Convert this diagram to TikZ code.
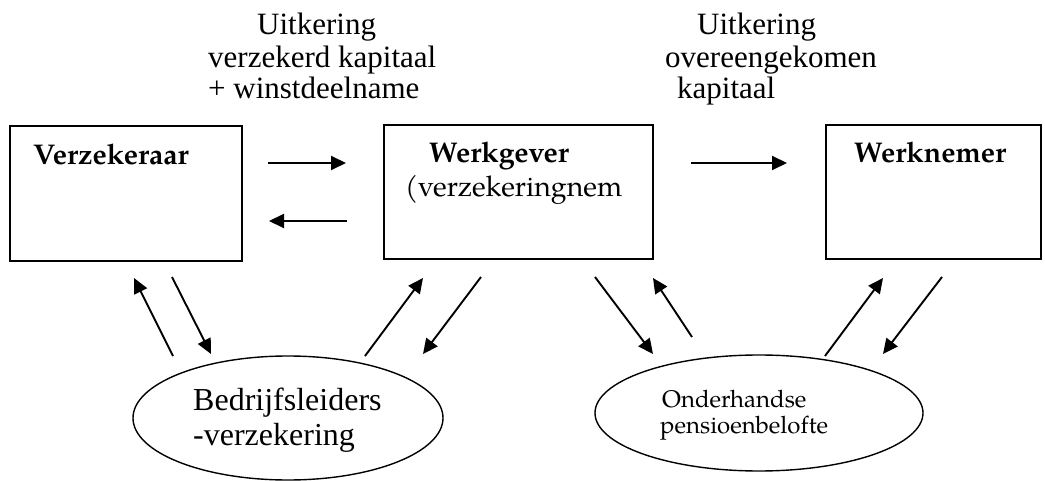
\documentclass[tikz,border=0pt]{standalone}
\usepackage{fontspec}
\setmainfont{Liberation Serif}
\newfontfamily\pal{TeX Gyre Pagella}
\usetikzlibrary{arrows.meta,shapes.geometric}
\begin{document}
\begin{tikzpicture}[x=1pt,y=-1pt,
  box/.style={draw,line width=2pt,inner sep=0pt,rectangle},
  oval/.style={draw,ellipse,line width=1.4pt,inner sep=0pt},
  flow/.style={line width=1.9pt,-{Triangle[length=15pt,width=14pt]}},
  lbl/.style={anchor=base west,inner sep=0pt,font=\fontsize{31}{32}\selectfont},
  boxtxt/.style={anchor=base west,inner sep=0pt,font=\pal\fontsize{28.5}{30}\selectfont},
  boldtxt/.style={boxtxt,font=\pal\bfseries\fontsize{28.5}{30}\selectfont},
  ovaltxt/.style={anchor=base west,inner sep=0pt,font=\pal\fontsize{24}{26}\selectfont},
]
\useasboundingbox (0,0) rectangle (1045,481);

% parties
\node[box,minimum width=232pt,minimum height=135pt] (verz) at (126,193.5) {};
\node[box,minimum width=269pt,minimum height=134pt] (wg) at (518.5,192) {};
\node[box,minimum width=215pt,minimum height=134pt] (wn) at (933.5,192) {};

\node[boldtxt] (tverz) at (33,165) {Verzekeraar};
\node[boldtxt] (twg) at (429,163) {Werkgever};
\node[boxtxt] (twg2) at (405,197) {(verzekeringnem};
\node[boldtxt] (twn) at (854,163) {Werknemer};

% arrangements
\node[oval,minimum width=310pt,minimum height=124pt] (bl) at (288,418) {};
\node[oval,minimum width=328pt,minimum height=116pt] (op) at (759,413) {};

\node[lbl,font=\fontsize{32}{34}\selectfont] (tbl1) at (193,410) {Bedrijfsleiders};
\node[lbl,font=\fontsize{32}{34}\selectfont] (tbl2) at (193,445) {-verzekering};
\node[ovaltxt] (top1) at (662,407) {Onderhandse};
\node[ovaltxt] (top2) at (660,433) {pensioenbelofte};

% payment labels
\node[lbl] (u1a) at (257,35) {Uitkering};
\node[lbl] (u1b) at (208,68) {verzekerd kapitaal};
\node[lbl] (u1c) at (208,99) {+ winstdeelname};
\node[lbl] (u2a) at (697,35) {Uitkering};
\node[lbl] (u2b) at (665,68) {overeengekomen};
\node[lbl] (u2c) at (677,99) {kapitaal};

% arrow end points
\coordinate (h1s) at (268,163); \coordinate (h1e) at (346,163);
\coordinate (h2s) at (347,221); \coordinate (h2e) at (269,221);
\coordinate (h3s) at (691,163); \coordinate (h3e) at (787,163);

\coordinate (d1s) at (173,356); \coordinate (d1e) at (134,278);
\coordinate (d2s) at (172,277); \coordinate (d2e) at (211,354);
\coordinate (d3s) at (365,356); \coordinate (d3e) at (423,278);
\coordinate (d4s) at (481,277); \coordinate (d4e) at (423,354);
\coordinate (d5s) at (595,277); \coordinate (d5e) at (653,354);
\coordinate (d6s) at (692,337); \coordinate (d6e) at (653,278);
\coordinate (d7s) at (825,356); \coordinate (d7e) at (883,278);
\coordinate (d8s) at (942,277); \coordinate (d8e) at (883,354);

\foreach \a in {h1,h2,h3,d1,d2,d3,d4,d5,d6,d7,d8}
  \draw[flow] (\a s) -- (\a e);
\end{tikzpicture}
\end{document}
